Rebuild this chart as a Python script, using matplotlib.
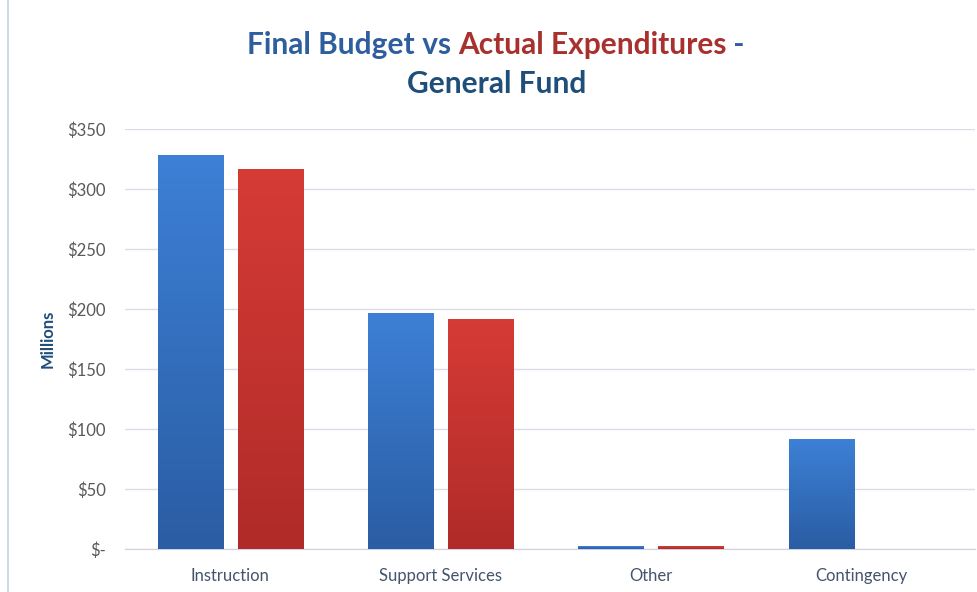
import matplotlib.pyplot as plt
import matplotlib.colors as mcolors
import numpy as np

plt.rcParams['font.family'] = ['Lato', 'DejaVu Sans']

categories = ["Instruction", "Support Services", "Other", "Contingency"]
final_budget = [328, 196, 2, 91]
actual_exp = [316, 191, 2, 0]
yticks = [0, 50, 100, 150, 200, 250, 300, 350]
ytick_labels = ["$-", "$50", "$100", "$150", "$200", "$250", "$300", "$350"]


def gradient_bars(ax, bars, top_color, bottom_color):
    cmap = mcolors.LinearSegmentedColormap.from_list("g", [bottom_color, top_color])
    grad = np.linspace(0, 1, 256).reshape(-1, 1)
    for bar in bars:
        x, y = bar.get_xy()
        w, h = bar.get_width(), bar.get_height()
        if h <= 0:
            continue
        bar.set_facecolor("none")
        ax.imshow(grad, extent=(x, x + w, y, y + h), origin="lower",
                  cmap=cmap, aspect="auto", zorder=3)


fig = plt.figure(figsize=(9.77, 5.92), dpi=100)
ax = fig.add_axes([0.128, 0.0726, 0.87, 0.7095])

x = np.arange(len(categories))
width = 0.31
offset = 0.19
b1 = ax.bar(x - offset, final_budget, width, color="#3a7bcf", zorder=3, linewidth=0)
b2 = ax.bar(x + offset, actual_exp, width, color="#d43a35", zorder=3, linewidth=0)
gradient_bars(ax, b1, "#3d80d6", "#2a5da3")
gradient_bars(ax, b2, "#d63b36", "#b02b28")

ax.set_xlim(-0.5, 3.54)
ax.set_ylim(0, 350)
ax.set_yticks(yticks)
ax.set_yticklabels(ytick_labels)
ax.set_xticks(x)
ax.set_xticklabels(categories)
ax.tick_params(axis="both", length=0, labelsize=12, colors="#595959")
ax.tick_params(axis="y", pad=14)
ax.tick_params(axis="x", pad=14, labelcolor="#44546a")
ax.grid(axis="y", color="#dcdce8", linewidth=1, zorder=0)
for s in ["top", "right", "left"]:
    ax.spines[s].set_visible(False)
ax.spines["bottom"].set_color("#d0d0e0")
ax.set_ylabel("Millions", fontsize=12, fontweight="bold", color="#1f4e79", labelpad=8)

# frame line on the left
fig.add_artist(plt.Line2D([0.008, 0.008], [0.0, 1.0], color="#c8d0e6", linewidth=1.2))

# multicolor title
parts = [("Final Budget", "#2e5e9e"), (" vs ", "#2e5e9e"),
         ("Actual Expenditures", "#a8302d"), (" -", "#2e5e9e")]
fig.canvas.draw()
renderer = fig.canvas.get_renderer()
texts = []
total = 0
for s, c in parts:
    t = fig.text(0, 0.924, s, color=c, fontsize=21.5, fontweight="bold",
                 ha="left", va="center")
    w = t.get_window_extent(renderer).width
    texts.append((t, w))
    total += w
xpos = 496 - total / 2
for t, w in texts:
    t.set_x(xpos / fig.bbox.width)
    xpos += w
fig.text(497 / 977, 0.858, "General Fund", color="#1f4e79", fontsize=21.5,
         fontweight="bold", ha="center", va="center")

fig.savefig("out.png", dpi=100)
